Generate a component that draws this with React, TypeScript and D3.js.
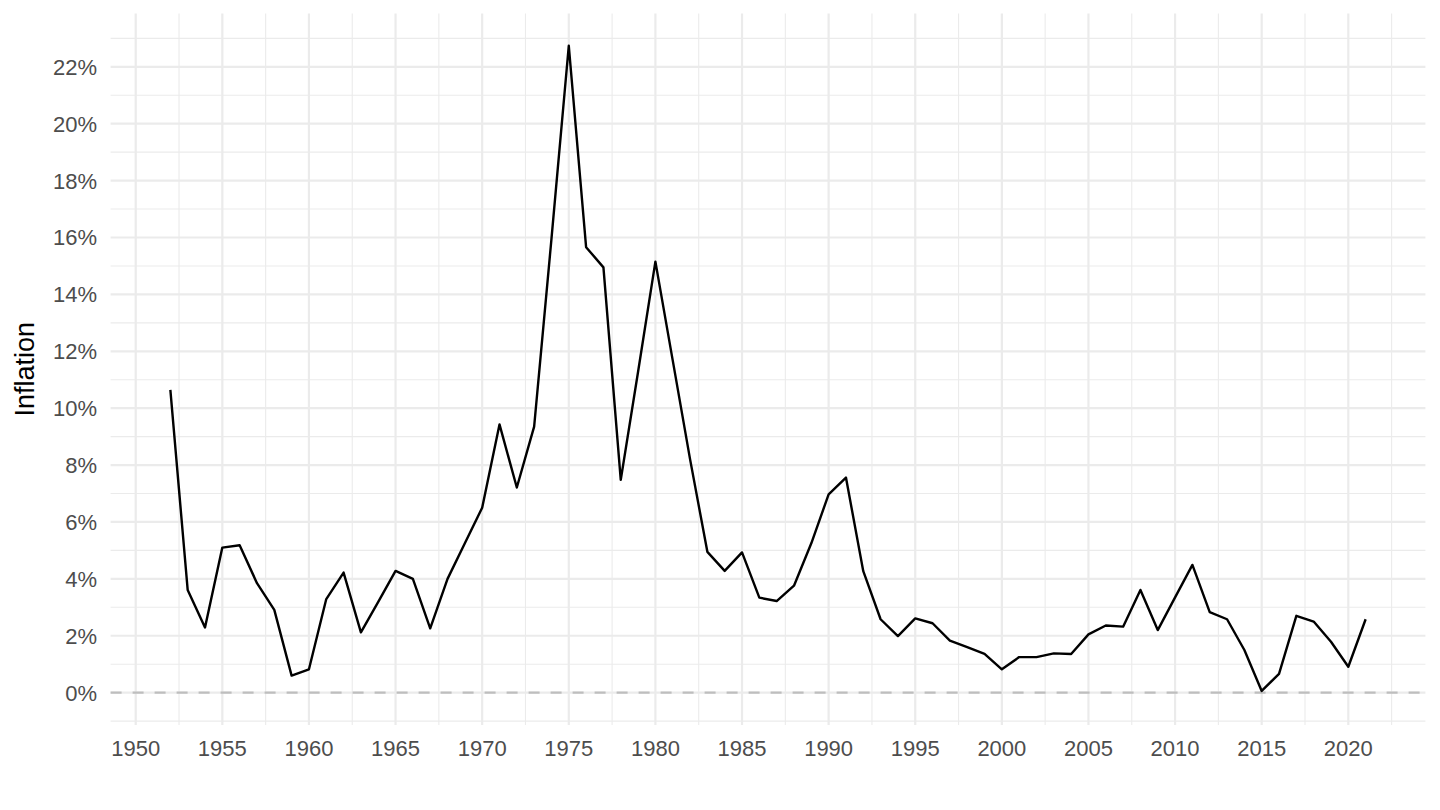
import * as d3 from 'd3';
import React from 'react';

const years = [
    1952, 1953, 1954, 1955, 1956, 1957, 1958, 1959, 1960, 1961,
    1962, 1963, 1964, 1965, 1966, 1967, 1968, 1969, 1970, 1971,
    1972, 1973, 1974, 1975, 1976, 1977, 1978, 1979, 1980, 1981,
    1982, 1983, 1984, 1985, 1986, 1987, 1988, 1989, 1990, 1991,
    1992, 1993, 1994, 1995, 1996, 1997, 1998, 1999, 2000, 2001,
    2002, 2003, 2004, 2005, 2006, 2007, 2008, 2009, 2010, 2011,
    2012, 2013, 2014, 2015, 2016, 2017, 2018, 2019, 2020, 2021,
];
const inflation = [
    10.64, 3.61, 2.29, 5.10, 5.18, 3.85, 2.91, 0.60, 0.82, 3.29,
    4.22, 2.12, 3.19, 4.28, 4.00, 2.26, 4.00, 5.25, 6.50, 9.43,
    7.21, 9.35, 15.95, 22.74, 15.66, 14.95, 7.48, 11.28, 15.15, 11.68,
    8.21, 4.95, 4.28, 4.93, 3.34, 3.22, 3.76, 5.25, 6.97, 7.56,
    4.27, 2.58, 1.99, 2.61, 2.44, 1.83, 1.60, 1.36, 0.82, 1.25,
    1.25, 1.38, 1.36, 2.05, 2.36, 2.32, 3.61, 2.20, 3.35, 4.49,
    2.83, 2.58, 1.50, 0.06, 0.66, 2.70, 2.50, 1.79, 0.91, 2.58,
];
const xTicks = [1950, 1955, 1960, 1965, 1970, 1975, 1980, 1985, 1990, 1995, 2000, 2005, 2010, 2015, 2020];
const xMinor = [1952.5, 1957.5, 1962.5, 1967.5, 1972.5, 1977.5, 1982.5, 1987.5, 1992.5, 1997.5, 2002.5, 2007.5, 2012.5, 2017.5, 2022.5];
const yTicks = [0, 2, 4, 6, 8, 10, 12, 14, 16, 18, 20, 22];
const yMinor = [-1, 1, 3, 5, 7, 9, 11, 13, 15, 17, 19, 21, 23];

const W = 1440;
const H = 810;
const FONT = 'Arial, "Liberation Sans", Helvetica, sans-serif';

export default () => {
    // ggplot-style 5% expansion
    const xr = [years[0], years[years.length - 1]];
    const xpad = (xr[1] - xr[0]) * 0.05;
    const x = d3.scaleLinear().domain([xr[0] - xpad, xr[1] + xpad]).range([110.6, 1425.4]);

    const ymax = d3.max(inflation) as number;
    const ypad = ymax * 0.05;
    const y = d3.scaleLinear().domain([0 - ypad, ymax + ypad]).range([725, 13.4]);

    const line = d3.line<number>()
        .x((d, i) => x(years[i]))
        .y(d => y(d));

    const [x0, x1] = x.range();
    const [y0, y1] = y.range();

    return (
        <svg width={W} height={H} style={{ position: 'absolute', left: 0, top: 0, background: '#fff' }}>
            <g>
                {yMinor.map(v => (
                    <line key={'ym' + v} x1={x0} x2={x1} y1={y(v)} y2={y(v)} stroke="#EBEBEB" strokeWidth={1.1} />
                ))}
                {xMinor.map(v => (
                    <line key={'xm' + v} x1={x(v)} x2={x(v)} y1={y0} y2={y1} stroke="#EBEBEB" strokeWidth={1.1} />
                ))}
                {yTicks.map(v => (
                    <line key={'yM' + v} x1={x0} x2={x1} y1={y(v)} y2={y(v)} stroke="#EBEBEB" strokeWidth={2.2} />
                ))}
                {xTicks.map(v => (
                    <line key={'xM' + v} x1={x(v)} x2={x(v)} y1={y0} y2={y1} stroke="#EBEBEB" strokeWidth={2.2} />
                ))}
            </g>
            <line x1={x0} x2={x1} y1={y(0)} y2={y(0)} stroke="#BEBEBE" strokeWidth={2.4} strokeDasharray="11,11" />
            <path d={line(inflation) as string} fill="none" stroke="#000" strokeWidth={2.4} strokeLinejoin="round" />
            <g fontFamily={FONT} fontSize={22} fill="#4D4D4D">
                {yTicks.map(v => (
                    <text key={'yl' + v} x={97} y={y(v)} dy="0.36em" textAnchor="end">{v + '%'}</text>
                ))}
                {xTicks.map(v => (
                    <text key={'xl' + v} x={x(v)} y={755.5} textAnchor="middle">{v}</text>
                ))}
            </g>
            <text
                transform={`translate(34, ${(y0 + y1) / 2}) rotate(-90)`}
                textAnchor="middle"
                fontFamily={FONT}
                fontSize={27}
                fill="#000"
            >
                Inflation
            </text>
        </svg>
    );
};
